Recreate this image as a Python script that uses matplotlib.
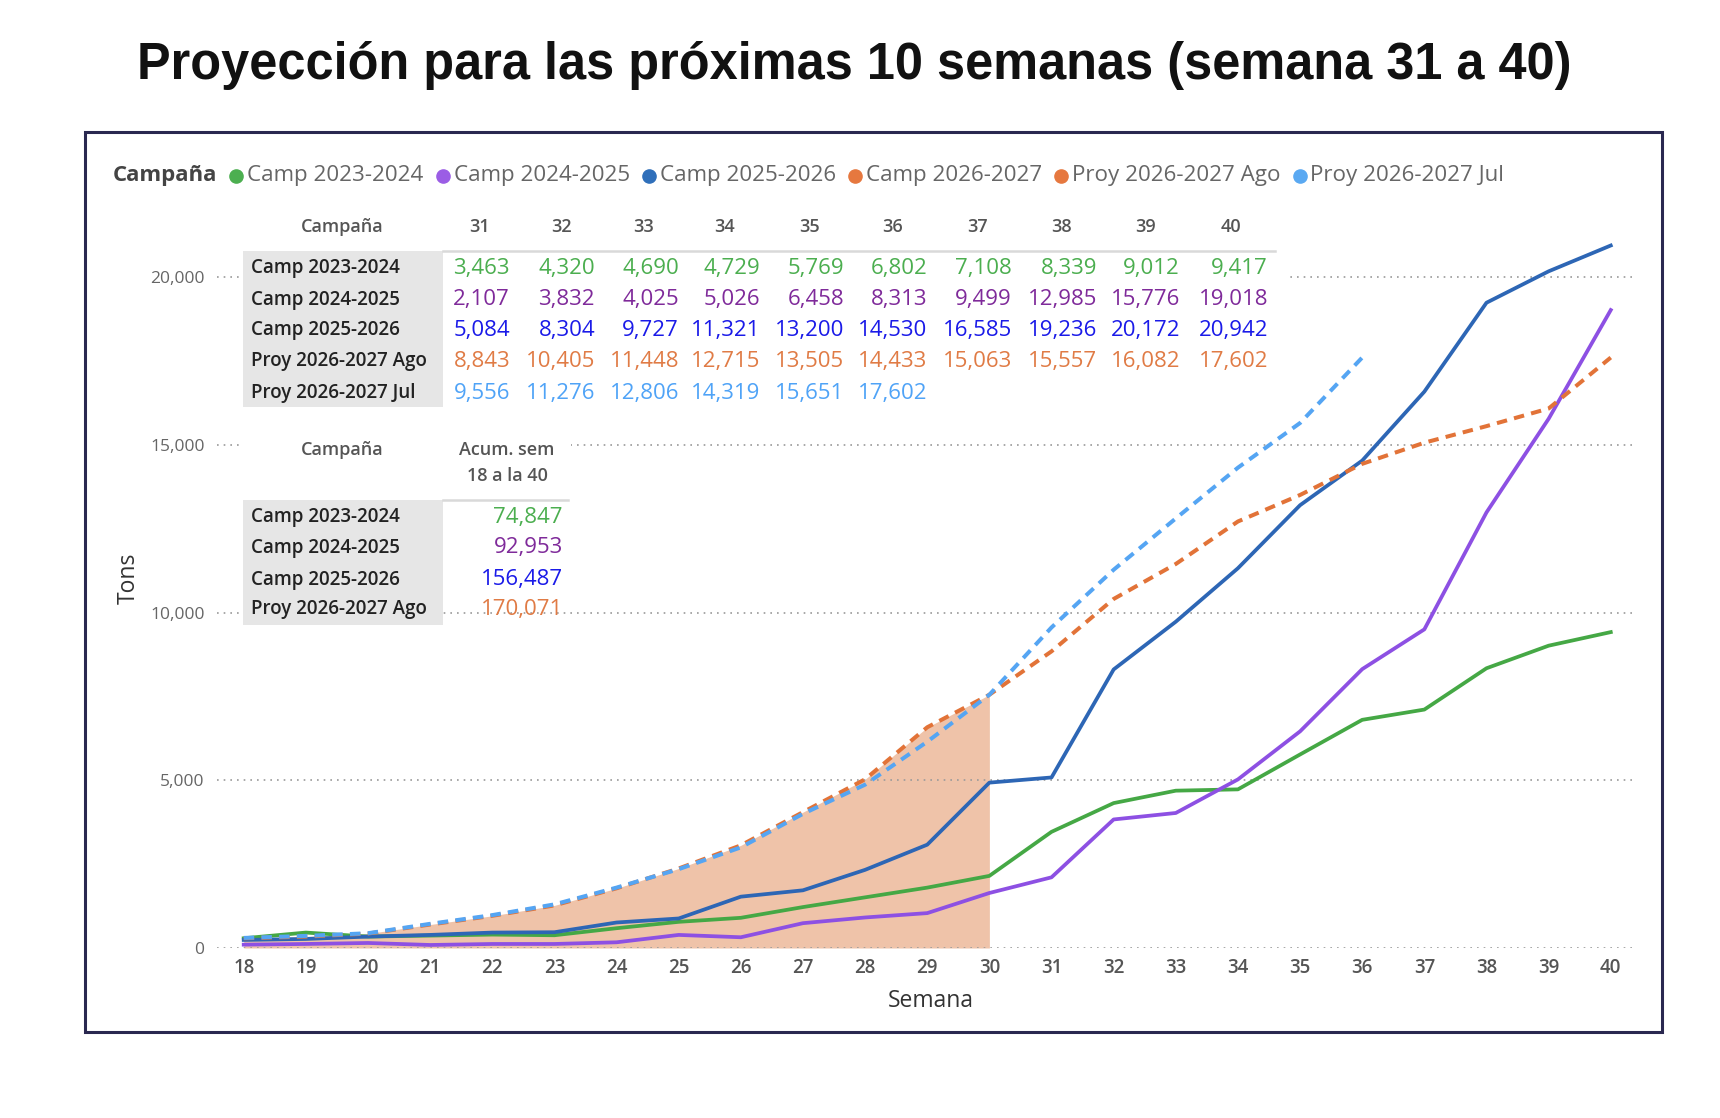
import matplotlib
matplotlib.use("Agg")
import matplotlib.pyplot as plt
from matplotlib.patches import Rectangle
from matplotlib.lines import Line2D

# ---------------- data ----------------
weeks = list(range(18, 41))
weeks_hist = list(range(18, 31))
weeks_jul = list(range(18, 37))

camp_2023_2024 = [290, 460, 340, 370, 400, 380, 590, 780, 900, 1220, 1510, 1800, 2150,
                  3463, 4320, 4690, 4729, 5769, 6802, 7108, 8339, 9012, 9417]
camp_2024_2025 = [100, 120, 150, 90, 120, 120, 170, 390, 320, 740, 910, 1040, 1640,
                  2107, 3832, 4025, 5026, 6458, 8313, 9499, 12985, 15776, 19018]
camp_2025_2026 = [240, 270, 340, 390, 460, 470, 760, 880, 1530, 1720, 2330, 3080, 4930,
                  5084, 8304, 9727, 11321, 13200, 14530, 16585, 19236, 20172, 20942]
camp_2026_2027 = [290, 340, 430, 700, 960, 1270, 1780, 2370, 3060, 4050, 5030, 6580, 7550]
proy_ago = [290, 340, 430, 700, 960, 1270, 1780, 2370, 3060, 4050, 5030, 6580, 7550,
            8843, 10405, 11448, 12715, 13505, 14433, 15063, 15557, 16082, 17602]
proy_jul = [300, 360, 440, 720, 980, 1300, 1800, 2350, 3000, 4000, 4870, 6150, 7550,
            9556, 11276, 12806, 14319, 15651, 17602]

series_names = ["Camp 2023-2024", "Camp 2024-2025", "Camp 2025-2026",
                "Camp 2026-2027", "Proy 2026-2027 Ago", "Proy 2026-2027 Jul"]
table_weeks = list(range(31, 41))
acum_names = ["Camp 2023-2024", "Camp 2024-2025", "Camp 2025-2026", "Proy 2026-2027 Ago"]
acum_values = [74847, 92953, 156487, 170071]
y_ticks = [0, 5000, 10000, 15000, 20000]

# ---------------- styles ----------------
W, H = 1720, 1118
plt.rcParams["font.family"] = ["Open Sans", "DejaVu Sans"]

c_green, c_purple, c_blue = "#45a845", "#8d50e3", "#2d66b5"
c_orange, c_lblue, c_area = "#e27338", "#55a5f3", "#efc3a9"
leg_colors = ["#4caf50", "#9b5de5", "#2f6fba", "#e6783f", "#e6783f", "#5aa9f2"]
tab_green, tab_purple, tab_blue = "#4bae4f", "#7f2a9a", "#1a1ae8"
tab_orange, tab_lblue = "#e07b45", "#4fa3f7"


def fx(x):
    return x / W


def fy(y):
    return 1 - y / H


fig = plt.figure(figsize=(W / 100, H / 100), dpi=100)
fig.patch.set_facecolor("white")

ax_l, ax_r, ax_b, ax_t = 217, 1635, 948, 210
ax = fig.add_axes([fx(ax_l), fy(ax_b), (ax_r - ax_l) / W, (ax_b - ax_t) / H])
ax.set_xlim(17.57, 40.39)
ax.set_ylim(0, 22000)

ax.fill_between(weeks_hist, camp_2026_2027, 0, color=c_area, lw=0, zorder=1)
ax.plot(weeks, camp_2023_2024, color=c_green, lw=2.7, zorder=3)
ax.plot(weeks, camp_2024_2025, color=c_purple, lw=2.7, zorder=3)
ax.plot(weeks, camp_2025_2026, color=c_blue, lw=2.7, zorder=3)
ax.plot(weeks, proy_ago, color=c_orange, lw=2.9, ls=(0, (2.6, 1.8)), zorder=3)
ax.plot(weeks_jul, proy_jul, color=c_lblue, lw=2.9, ls=(0, (2.6, 1.8)), zorder=3)

for s in ax.spines.values():
    s.set_visible(False)
ax.set_xticks(weeks)
ax.set_xticklabels([str(w) for w in weeks])
ax.set_yticks(y_ticks)
ax.set_yticklabels([f"{v:,}" for v in y_ticks])
ax.tick_params(axis="x", length=0, pad=7, labelsize=13.5, labelcolor="#555555")
ax.tick_params(axis="y", length=0, pad=9, labelsize=12.5, labelcolor="#666666")
for lab in ax.get_xticklabels():
    lab.set_fontweight("semibold")
ax.set_axisbelow("line")
ax.yaxis.grid(True, color="#9a9a9a", lw=1.2, ls=(0, (1, 3)))
ax.xaxis.grid(False)

ax.set_xlabel("Semana", fontsize=16.5, color="#333333", va="center")
ax.xaxis.set_label_coords((931 - ax_l) / (ax_r - ax_l), -(1001 - ax_b) / (ax_b - ax_t))
ax.set_ylabel("Tons", fontsize=16.5, color="#333333", va="center")
ax.yaxis.set_label_coords((129 - ax_l) / (ax_r - ax_l), (ax_b - 578) / (ax_b - ax_t))

# ---------------- title & frame ----------------
fig.text(fx(854), fy(66), "Proyección para las próximas 10 semanas (semana 31 a 40)",
         ha="center", va="center", fontsize=36.4, fontweight="bold",
         family=["Liberation Sans", "DejaVu Sans"], color="#111111")
fig.patches.append(Rectangle((fx(85), fy(1032)), (1662 - 85) / W, (1032 - 132) / H,
                             transform=fig.transFigure, fill=False,
                             edgecolor="#2a2850", lw=2.2, zorder=5))

# ---------------- legend ----------------
renderer = fig.canvas.get_renderer()
ly = 176
t = fig.text(fx(113), fy(ly), "Campaña", fontsize=16, fontweight="bold",
             color="#444444", ha="left", va="center")
x_end = 113 + t.get_window_extent(renderer).width
for name, col in zip(series_names, leg_colors):
    cx = x_end + 19
    fig.add_artist(Line2D([fx(cx)], [fy(ly)], marker="o", ms=9.5, color=col,
                          lw=0, transform=fig.transFigure))
    t = fig.text(fx(cx + 11), fy(ly), name, fontsize=16.1, color="#666666",
                 ha="left", va="center")
    x_end = cx + 11 + t.get_window_extent(renderer).width

# ---------------- table 1 ----------------
hdr_y = 227
col_centers = [480, 561, 644, 725, 809, 893, 977, 1061, 1145, 1231]
col_rights = [510, 595, 679, 760, 844, 927, 1012, 1097, 1180, 1268]
row_ys = [268.5, 299.5, 330.5, 361.5, 393]
fig.patches.append(Rectangle((fx(243), fy(407)), (1290 - 243) / W, (407 - 200) / H,
                             transform=fig.transFigure, facecolor="white", lw=0, zorder=1))
fig.patches.append(Rectangle((fx(243), fy(407)), (443 - 243) / W, (407 - 251) / H,
                             transform=fig.transFigure, facecolor="#e6e6e6", lw=0, zorder=1.1))
fig.add_artist(Line2D([fx(443), fx(1275)], [fy(251), fy(251)], color="#d9d9d9", lw=1.8,
                      transform=fig.transFigure))
fig.text(fx(342), fy(hdr_y), "Campaña", fontsize=13, fontweight="semibold",
         color="#555555", ha="center", va="center")
for w, cxx in zip(table_weeks, col_centers):
    fig.text(fx(cxx), fy(hdr_y), str(w), fontsize=13, fontweight="semibold",
             color="#555555", ha="center", va="center")

tab_rows = [
    ("Camp 2023-2024", camp_2023_2024[-10:], tab_green),
    ("Camp 2024-2025", camp_2024_2025[-10:], tab_purple),
    ("Camp 2025-2026", camp_2025_2026[-10:], tab_blue),
    ("Proy 2026-2027 Ago", proy_ago[-10:], tab_orange),
    ("Proy 2026-2027 Jul", proy_jul[-6:], tab_lblue),
]
for (name, vals, col), ry in zip(tab_rows, row_ys):
    fig.text(fx(251), fy(ry), name, fontsize=13.5, fontweight="semibold",
             color="#222222", ha="left", va="center")
    for v, rx in zip(vals, col_rights):
        fig.text(fx(rx), fy(ry), f"{v:,}", fontsize=16, color=col,
                 ha="right", va="center")

# ---------------- table 2 ----------------
fig.patches.append(Rectangle((fx(243), fy(497)), (571 - 243) / W, (497 - 428) / H,
                             transform=fig.transFigure, facecolor="white", lw=0, zorder=1))
fig.patches.append(Rectangle((fx(243), fy(625)), (443 - 243) / W, (625 - 500) / H,
                             transform=fig.transFigure, facecolor="#e6e6e6", lw=0, zorder=1.1))
fig.add_artist(Line2D([fx(443), fx(568)], [fy(500), fy(500)], color="#d9d9d9", lw=1.8,
                      transform=fig.transFigure))
fig.text(fx(342), fy(450), "Campaña", fontsize=13, fontweight="semibold",
         color="#555555", ha="center", va="center")
fig.text(fx(507), fy(450), "Acum. sem", fontsize=13, fontweight="semibold",
         color="#555555", ha="center", va="center")
fig.text(fx(507), fy(476), "18 a la 40", fontsize=13, fontweight="semibold",
         color="#555555", ha="center", va="center")
acum_colors = [tab_green, tab_purple, tab_blue, tab_orange]
for name, v, col, ry in zip(acum_names, acum_values, acum_colors, [517, 548, 580, 609]):
    fig.text(fx(251), fy(ry), name, fontsize=13.5, fontweight="semibold",
             color="#222222", ha="left", va="center")
    fig.text(fx(563), fy(ry), f"{v:,}", fontsize=16, color=col, ha="right", va="center")

fig.savefig("out.png", dpi=100, facecolor="white")
